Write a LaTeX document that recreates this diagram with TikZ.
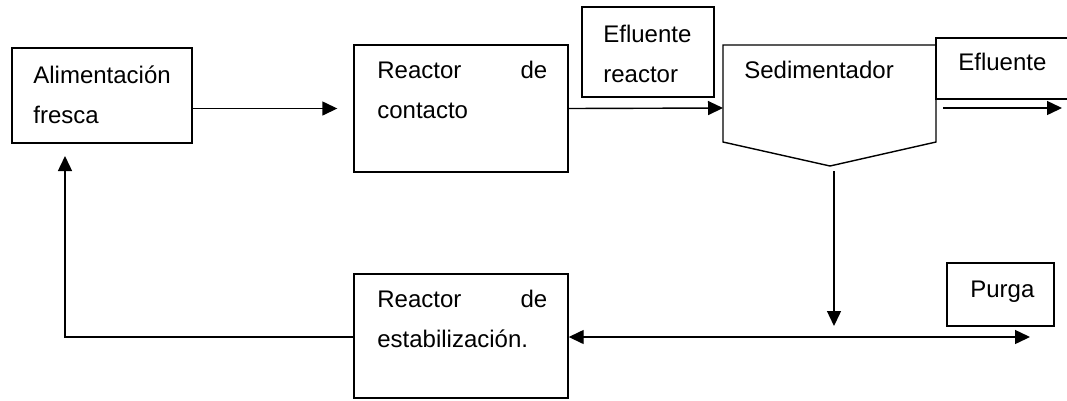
\documentclass[tikz,border=0pt]{standalone}
\usepackage{fontspec}
\setmainfont{Liberation Sans}
\usetikzlibrary{arrows.meta,fit,positioning}

\begin{document}
\begin{tikzpicture}[x=0.02cm, y=-0.02cm,
                    BOX/.style={rectangle, draw, line width=0.8pt, inner sep=0pt},
                    TXT/.style={anchor=base west, inner sep=0pt, text width=#1, align=left, font=\fontsize{13.66pt}{23.2pt}\selectfont},
                    TXT/.default=3.4cm,
                    FLOW/.style={line width=0.8pt, -{Triangle[length=0.3cm, width=0.28cm]}},
                    BIFLOW/.style={line width=0.8pt, {Triangle[length=0.3cm, width=0.28cm]}-{Triangle[length=0.3cm, width=0.28cm]}},
                ]
                \useasboundingbox (0,0) rectangle (1067,400);

                % Kaesten
                \node[BOX, fit={(12,48) (192,143)}]   (Alim)    {};
                \node[TXT=3.2cm]  (Alim_T)  at (33,83)   {Alimentación\\fresca};
                \node[BOX, fit={(354,45) (568,172)}]  (Cont)    {};
                \node[TXT]        (Cont_T)  at (377,78)  {Reactor\hfill de\\contacto};
                \node[BOX, fit={(582,7) (714,97)}]    (EflR)    {};
                \node[TXT=2.4cm]  (EflR_T)  at (603,42)  {Efluente\\reactor};
                \node[BOX, fit={(354,274) (568,398)}] (Stab)    {};
                \node[TXT]        (Stab_T)  at (377,307) {Reactor\hfill de\\estabilización.};
                \node[BOX, fit={(947,263) (1054,326)}] (Purga)  {};
                \node[TXT=1.8cm]  (Purga_T) at (970,297) {Purga};

                % Sedimentador
                \coordinate (Sed_W) at (723,108);
                \coordinate (Sed_E) at (936,108);
                \coordinate (Sed_S) at (830,166);
                \draw[line width=0.8pt] (723,45) -- (936,45) -- (936,142) -- (Sed_S) -- (723,142) -- cycle;
                \node[TXT=3.6cm]  (Sed_T)   at (744,78)  {Sedimentador};

                % Efluente (rechts offen)
                \draw[line width=0.8pt] (1067,38) -- (936,38) -- (936,99) -- (1067,99);
                \node[TXT=2.2cm]  (Efl_T)   at (958,70)  {Efluente};

                % Stroeme
                \coordinate (Efl_End) at (1062,108);
                \coordinate (Split) at (834,337);
                \coordinate (Purga_End) at (1030,337);
                \coordinate (Ret) at (65,156);

                \draw[FLOW, shorten >=0.32cm] (Alim.east |- Cont.west) -- (Cont.west);
                \draw[FLOW] (Cont.east) -- (Sed_W);
                \draw[FLOW] ([xshift=0.14cm]Sed_E) -- (Efl_End);
                \draw[FLOW] ([yshift=-0.1cm]Split |- Sed_S) -- ([yshift=0.22cm]Split);
                \draw[BIFLOW] (Stab.east |- Split) -- (Purga_End);
                \draw[FLOW] (Stab.west |- Split) -| (Ret);

            \end{tikzpicture}
\end{document}
